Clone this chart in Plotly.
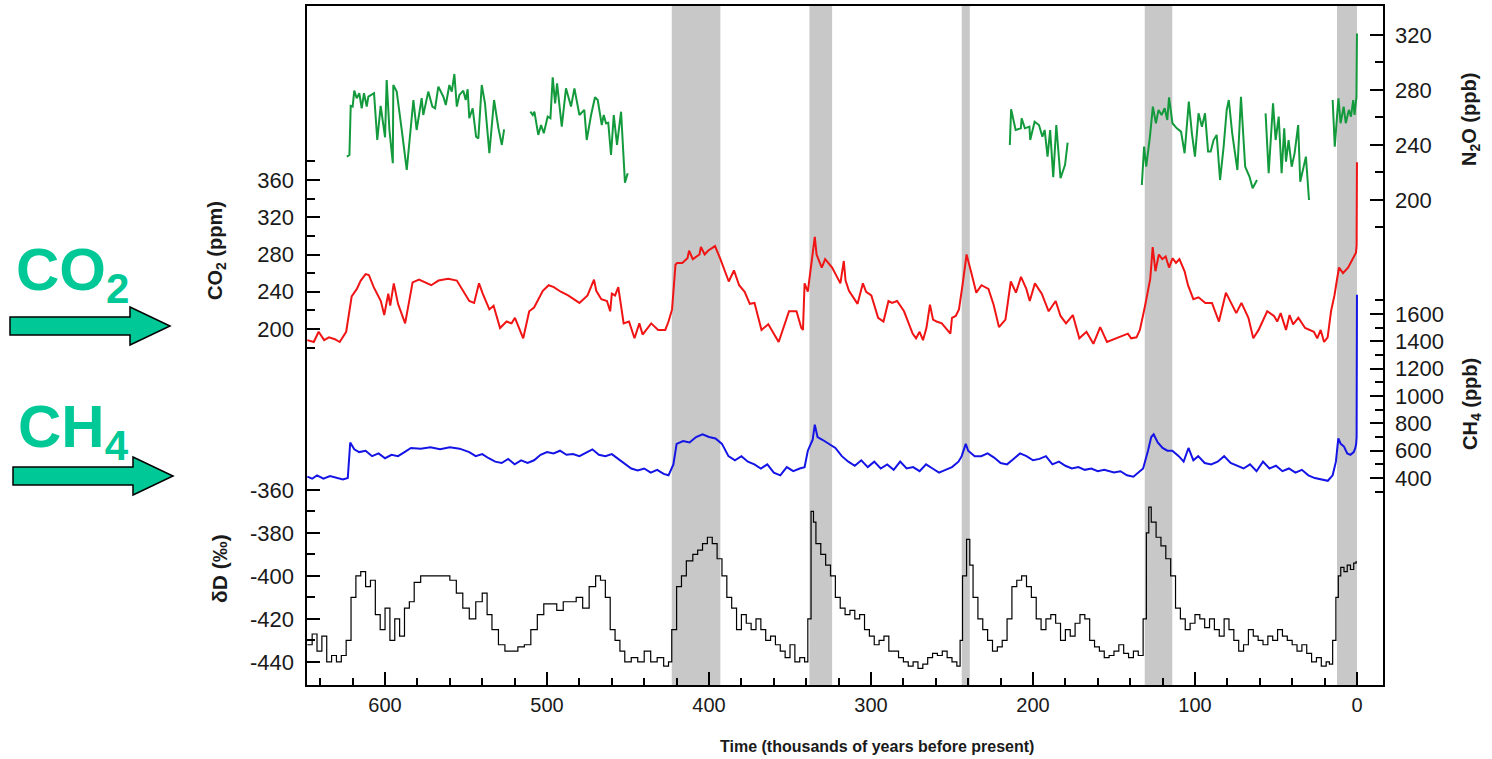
import plotly.graph_objects as go

# ---------------------------------------------------------------
# Antarctic ice-core records over the last ~650 kyr
# ages are in thousands of years before present
# ---------------------------------------------------------------

# interglacial periods (shaded)
band_start = [423, 338, 244, 131, 12.3]
band_end = [393, 324, 239, 114, 0]

# CO2 (ppm)
co2_age = [
    648, 644, 641, 637.6, 634.6, 631, 628, 626, 624, 620.6,
    617.4, 615, 612, 610, 607, 602.6, 600.5, 598, 596.8, 594.6,
    592, 587.6, 583, 579, 571.5, 567, 561, 555.7, 548, 545,
    542, 539.7, 535.6, 533, 529, 525, 521.9, 519.8, 516.6, 514.7,
    511, 508, 502.6, 499, 495.8, 491.5, 487, 480, 475, 471,
    469.6, 466.5, 463, 461, 460, 458, 456, 452.7, 449.4, 446,
    443, 441, 435.7, 431.4, 427, 425, 422.8, 420.7, 419.7, 416.5,
    413.3, 412.3, 410, 405.9, 405, 402.7, 400.6, 396.3, 393.2, 387.8,
    384.6, 381.4, 378, 374.8, 371.9, 367.6, 363.4, 357, 350.6, 346,
    343, 342, 341, 339, 334.7, 333.6, 330.4, 328.3, 324, 321,
    318.9, 316.8, 315.7, 313.6, 308.3, 305, 303, 299.8, 295.6, 292.3,
    289.2, 287, 283.9, 279.6, 274.3, 272.2, 270, 267.9, 265.8, 263.6,
    261.7, 259.5, 256.3, 251, 250, 247.7, 245.7, 243.5, 241, 238.3,
    235, 231.8, 227.5, 224.3, 221, 217, 213.7, 210.5, 207.4, 204.1,
    202, 198.8, 194.6, 190.3, 186, 183, 179.6, 175.4, 171.4, 167,
    162.7, 158.5, 154.3, 141.4, 139.4, 136.1, 134, 130.8, 127.6, 126.1,
    124.4, 122.3, 120.2, 118.1, 116, 113.8, 111.7, 109.6, 106.4, 104.3,
    101, 97.8, 93.6, 89.5, 85.2, 80.9, 77.7, 74.5, 71.3, 67,
    64, 60.7, 55.4, 51.2, 49.2, 47.1, 43.8, 41.6, 39.4, 36.2,
    32, 26.6, 24.5, 22.4, 20.3, 18.1, 16, 13.9, 11.1, 8.6,
    5.4, 2.2, 0.6, 0.2, 0.1, 0.0,
]
co2_ppm = [
    188, 186, 197, 188, 191, 189, 186, 191, 197, 235,
    243, 252, 259, 258, 245, 230, 215, 238, 225, 249,
    227, 206, 250, 253, 247, 252, 254, 252, 230, 228,
    249, 238, 221, 225, 201, 208, 206, 212, 199, 190,
    219, 223, 241, 247, 245, 240, 236, 228, 236, 253,
    241, 232, 230, 219, 238, 236, 245, 206, 208, 190,
    206, 194, 206, 199, 199, 208, 221, 269, 271, 271,
    276, 284, 275, 280, 288, 280, 284, 289, 276, 251,
    263, 247, 240, 227, 228, 199, 205, 186, 219, 219,
    201, 199, 249, 240, 299, 280, 266, 275, 266, 256,
    249, 273, 252, 241, 227, 249, 240, 236, 212, 208,
    230, 228, 230, 219, 195, 190, 197, 188, 201, 226,
    210, 208, 206, 195, 212, 214, 221, 247, 280, 262,
    239, 247, 243, 226, 202, 210, 251, 239, 256, 243,
    230, 249, 238, 219, 230, 214, 206, 215, 190, 197,
    184, 202, 186, 195, 190, 191, 199, 225, 254, 288,
    262, 280, 275, 278, 266, 276, 271, 275, 262, 247,
    232, 234, 228, 228, 208, 239, 228, 217, 228, 212,
    190, 199, 219, 214, 208, 217, 199, 215, 205, 212,
    201, 197, 190, 199, 186, 191, 219, 236, 266, 260,
    266, 276, 282, 290, 317, 379,
]

# N2O (ppb); None separates core sections without data
n2o_age = [
    623.6, 622, 621.2, 620, 619, 617.5, 615.9, 614.4, 613, 611.3,
    610.3, 608.2, 606.8, 604.8, 602.7, 600, 599, 597.3, 595.2, 594.9,
    592.8, 589.7, 586.6, 582.5, 580.5, 577.4, 576.4, 573.3, 570.8, 569.1,
    567.1, 564, 562.5, 560.3, 558.8, 557.2, 555.7, 554.1, 551.7, 550.2,
    549, 548, 545.9, 543.8, 542.4, 540.3, 538.3, 535.6, 532.7, 530,
    527.9, 526.5, None,
    510.3, 508.8, 507.8, 505.4, 503.7, 502, 499.6, 497.9, 496.5, 495,
    493.8, 490.9, 488.3, 485.2, 483.1, 480, 477, 475.5, 472.8, 470.4,
    468.7, 466.2, 465, 463.6, 462.2, 460.5, 458.8, 456.8, 454.3, 451.9,
    450.2, None,
    214.3, 213.5, 210.7, 207.5, 207, 205, 202.2, 201.7, 199, 196.3,
    194.2, 192.8, 191, 189.4, 187.5, 185.6, 183, 180.2, 178.6, None,
    132.8, 131.4, 130.1, 127.8, 126, 124.1, 122.5, 120.6, 118.7, 117.1,
    116, 113.9, 111.2, 108.6, 106.4, 103.8, 101.9, 100, 97.8, 95.7,
    93.8, 91.9, 90.3, 88.5, 86.6, 84.5, 82.3, 80.4, 79.1, 77,
    73.8, 71.6, 69, 66.3, 64.4, 61.7, None,
    56.4, 54.5, 51.8, 50.2, 48.3, 46.5, 44.9, 43.8, 42.2, 40.3,
    38.5, 36.3, 35, 33.1, 31.5, 29.6, None,
    15, 13.7, 12.3, 11.4, 10.1, 8.2, 6.9, 5, 3.7, 2.3,
    1.5, 0.7, 0.3, 0.0,
]
n2o_ppb = [
    231.5, 232.7, 268.4, 267.9, 279.5, 274, 277.6, 266.7, 277.6, 267.9,
    275.1, 276.9, 277.6, 243.6, 268.4, 245.6, 287.3, 250.9, 226.7, 283.6,
    278.8, 250.9, 221.8, 272.7, 250.9, 274, 261.8, 278.8, 267.9, 266.7,
    282.4, 275.1, 269.1, 283.6, 278.8, 291.6, 267.9, 276.4, 279.5, 272.7,
    280.5, 259.4, 266.7, 246, 244.8, 283.6, 270.3, 234, 272.7, 252.1,
    240, 251.4, None,
    264.2, 261.8, 264.2, 247.3, 254.5, 248.5, 260.6, 259.4, 289.2, 270.3,
    284.8, 253.3, 281.2, 267.9, 281.2, 261.8, 265.5, 243.6, 261.8, 274.7,
    272.7, 254.5, 261.8, 255.8, 256.2, 232.7, 261.8, 240, 264.2, 212.6,
    219.4, None,
    240, 266, 250.9, 252.1, 259.4, 252.1, 253.3, 243.6, 256.9, 254.5,
    246, 250.9, 231.5, 250.9, 216.5, 254.5, 215.8, 225.5, 241.7, None,
    210.9, 238.8, 224.2, 246, 267.9, 255.8, 265.5, 261.8, 266.7, 258.2,
    274.7, 255.8, 252.1, 249.7, 234, 271.5, 248.5, 231.5, 263, 253.3,
    263, 235.2, 235.2, 243.6, 247.3, 214.5, 238.8, 265.5, 272.7, 248.5,
    221.8, 275.1, 224.2, 216.9, 208.5, 214.5, None,
    263, 219.4, 270.3, 243.6, 260.6, 219.4, 252.1, 227.9, 243.6, 224.2,
    233.9, 254.5, 213.3, 224.2, 231.5, 200, None,
    272.7, 238.8, 260.6, 274, 255.8, 267.9, 255.8, 265.5, 260.6, 272.7,
    261.8, 272.7, 275, 321,
]

# CH4 (ppb)
ch4_age = [
    648, 645, 642, 638, 634, 630, 626, 623, 621.5, 619,
    616, 612, 608, 604, 600, 596, 592, 588, 584, 578,
    572, 566, 560, 554, 548, 544, 540, 536, 532, 528,
    524, 520, 516, 512, 508, 504, 500, 496, 492, 488,
    484, 480, 476, 472, 468, 464, 460, 456, 452, 448,
    444, 440, 436, 432, 428, 425, 422, 420, 416, 412,
    408, 404, 400, 396, 392, 388, 384, 380, 376, 372,
    368, 364, 360, 356, 352, 348, 344, 341, 339, 336,
    334.7, 333, 330, 326, 322, 318, 314, 310, 306, 302,
    298, 294, 290, 286, 282, 278, 274, 270, 266, 262,
    258, 254, 250, 246, 244, 241.5, 240, 236, 232, 228,
    224, 220, 216, 212, 208, 204, 200, 196, 192, 188,
    184, 180, 176, 172, 168, 164, 160, 156, 150, 146,
    142, 138, 135, 132, 129, 127, 125.5, 123, 120, 117,
    114, 110, 107, 104, 101, 98, 94, 90, 86, 82,
    78, 74, 70, 66, 62, 58, 54, 50, 46, 42,
    38, 34, 30, 26, 22, 18, 15, 13, 11.5, 10,
    8, 6, 4, 2, 1, 0.5, 0.2, 0.1, 0,
]
ch4_ppb = [
    410, 395, 420, 395, 415, 400, 390, 400, 660, 610,
    590, 600, 560, 580, 545, 570, 560, 590, 620, 615,
    625, 610, 625, 615, 590, 560, 575, 545, 520, 510,
    540, 500, 530, 510, 530, 570, 590, 580, 600, 570,
    575, 560, 585, 610, 570, 560, 575, 540, 500, 470,
    455, 470, 440, 460, 430, 420, 500, 650, 670, 660,
    700, 720, 700, 690, 650, 560, 530, 560, 520, 500,
    470, 500, 440, 420, 480, 450, 470, 480, 600, 680,
    790, 700, 680, 650, 620, 560, 520, 490, 530, 480,
    520, 470, 500, 460, 520, 470, 480, 450, 500, 470,
    440, 460, 480, 520, 560, 650, 600, 560, 560, 580,
    550, 510, 500, 540, 580, 560, 530, 540, 560, 500,
    520, 490, 470, 480, 460, 470, 450, 460, 440, 450,
    420, 410, 440, 470, 600, 700, 720, 660, 620, 600,
    600, 560, 520, 620, 530, 560, 510, 500, 520, 560,
    510, 490, 470, 500, 450, 520, 470, 490, 450, 470,
    440, 460, 420, 400, 390, 380, 420, 520, 690, 650,
    630, 580, 570, 590, 620, 650, 700, 900, 1740,
]

# deuterium (permil)
dd_age = [
    648, 645, 642, 639, 636, 633, 630, 627, 624, 621,
    618, 615, 612, 609, 606, 603, 600, 597, 594, 591,
    588, 585, 582, 578, 572, 566, 560, 556, 552, 548,
    544, 540, 537, 534, 530, 526, 522, 518, 514, 510,
    506, 502, 498, 494, 490, 486, 482, 478, 474, 470,
    467, 464, 461, 458, 455, 452, 448, 444, 440, 436,
    432, 428, 425, 423, 420, 417, 414, 410, 407, 404,
    401, 398, 395, 392, 389, 386, 383, 380, 377, 374,
    371, 368, 365, 362, 359, 356, 353, 350, 347, 344,
    341, 339, 337, 335.5, 334, 331, 328, 325, 322, 319,
    316, 313, 310, 307, 304, 301, 298, 295, 292, 289,
    286, 283, 280, 277, 274, 271, 268, 265, 262, 259,
    256, 253, 250, 247, 245, 243.5, 241, 239, 237, 234,
    231, 228, 225, 222, 219, 216, 213, 210, 207, 204,
    201, 198, 195, 192, 189, 186, 183, 180, 177, 174,
    171, 168, 165, 162, 159, 156, 153, 150, 147, 144,
    141, 138, 135, 132, 130, 128.5, 127, 124, 121, 118,
    115, 112, 109, 106, 103, 100, 97, 94, 91, 88,
    85, 82, 79, 76, 73, 70, 67, 64, 61, 58,
    55, 52, 49, 46, 43, 40, 37, 34, 31, 28,
    25, 22, 19, 17, 15, 13, 11.5, 10, 8, 6,
    4, 2, 0.5,
]
dd_permil = [
    -432, -427, -435, -428, -440, -437, -440, -437, -430, -410,
    -400, -398, -405, -402, -418, -425, -415, -430, -420, -428,
    -415, -412, -403, -400, -400, -400, -402, -408, -415, -420,
    -412, -408, -418, -425, -432, -435, -435, -433, -432, -425,
    -418, -413, -413, -416, -412, -412, -410, -415, -405, -400,
    -402, -410, -425, -430, -435, -440, -438, -440, -435, -440,
    -438, -442, -440, -425, -405, -400, -393, -390, -388, -385,
    -382, -385, -392, -400, -410, -415, -425, -418, -422, -425,
    -420, -425, -430, -428, -432, -435, -438, -432, -440, -438,
    -440, -420, -370, -375, -385, -390, -395, -400, -410, -415,
    -418, -416, -420, -418, -425, -428, -432, -430, -428, -435,
    -435, -438, -440, -442, -440, -443, -441, -438, -436, -437,
    -435, -438, -440, -442, -430, -400, -383, -395, -410, -420,
    -425, -430, -435, -433, -430, -420, -405, -402, -400, -405,
    -410, -420, -425, -420, -418, -422, -430, -425, -428, -422,
    -418, -420, -430, -433, -435, -438, -437, -435, -432, -436,
    -438, -435, -437, -420, -380, -368, -375, -382, -386, -392,
    -400, -415, -420, -425, -422, -418, -420, -424, -420, -425,
    -428, -420, -425, -430, -435, -432, -425, -428, -430, -432,
    -428, -430, -425, -428, -430, -432, -435, -432, -436, -440,
    -438, -442, -440, -441, -430, -410, -400, -396, -398, -395,
    -397, -394, -393,
]

# axis tick values
time_major = [600, 500, 400, 300, 200, 100, 0]
time_minor = [v for v in range(640, -1, -20) if v % 100 != 0]
co2_major = [200, 240, 280, 320, 360]
co2_minor = [180, 220, 260, 300, 340, 380]
dd_major = [-440, -420, -400, -380, -360]
dd_minor = [-430, -410, -390, -370]
n2o_major = [200, 240, 280, 320]
n2o_minor = [180, 220, 260, 300]
ch4_major = [400, 600, 800, 1000, 1200, 1400, 1600]
ch4_minor = [300, 500, 700, 900, 1100, 1300, 1500, 1700]

# ---------------------------------------------------------------
W, H = 1492, 759
ML, MR, MT, MB = 306, 108, 5, 73
PW, PH = W - ML - MR, H - MT - MB


def px(x):
    return (x - ML) / PW


def py(y):
    return (H - MB - y) / PH


FONT = "Liberation Sans, Arial, sans-serif"
MINT = "#00c896"

fig = go.Figure()

fig.add_trace(go.Scatter(x=dd_age, y=dd_permil, yaxis="y2", mode="lines",
                         line=dict(color="black", width=1.2, shape="hv"),
                         showlegend=False))
fig.add_trace(go.Scatter(x=ch4_age, y=ch4_ppb, yaxis="y4", mode="lines",
                         line=dict(color="#1414e6", width=2),
                         showlegend=False))
fig.add_trace(go.Scatter(x=co2_age, y=co2_ppm, yaxis="y", mode="lines",
                         line=dict(color="#f01414", width=2),
                         showlegend=False))
fig.add_trace(go.Scatter(x=n2o_age, y=n2o_ppb, yaxis="y3", mode="lines",
                         line=dict(color="#139a3c", width=2),
                         connectgaps=False, showlegend=False))

tickfont = dict(family=FONT, size=22, color="#1a1a1a")


def yax(rng, major, minor, side, standoff, overlay=True):
    d = dict(range=rng, autorange=False, side=side, showgrid=False,
             zeroline=False, showline=False, ticks="inside", ticklen=14,
             tickwidth=1.6, tickcolor="black", tickmode="array",
             tickvals=major, ticktext=[str(v) for v in major],
             tickfont=tickfont, ticklabelstandoff=standoff, fixedrange=True,
             minor=dict(tickmode="array", tickvals=minor, ticks="inside",
                        ticklen=9, tickwidth=1.6, tickcolor="black",
                        showgrid=False))
    if overlay:
        d["overlaying"] = "y"
        d["anchor"] = "x"
    return d


fig.update_layout(
    width=W, height=H,
    margin=dict(l=ML, r=MR, t=MT, b=MB, autoexpand=False),
    paper_bgcolor="white", plot_bgcolor="white",
    showlegend=False,
    xaxis=dict(range=[648.8, -16.7], autorange=False, showgrid=False,
               zeroline=False, showline=False, ticks="inside", ticklen=14,
               tickwidth=1.6, tickcolor="black", tickmode="array",
               tickvals=time_major, ticktext=[str(v) for v in time_major],
               tickfont=dict(family=FONT, size=20, color="#1a1a1a"),
               ticklabelstandoff=5, fixedrange=True,
               minor=dict(tickmode="array", tickvals=time_minor,
                          ticks="inside", ticklen=8, tickwidth=1.6,
                          tickcolor="black", showgrid=False)),
    yaxis=yax([-183.5, 548], co2_major, co2_minor, "left", 11, overlay=False),
    yaxis2=yax([-451.2, -134.4], dd_major, dd_minor, "left", 11),
    yaxis3=yax([-153.5, 341.8], n2o_major, n2o_minor, "right", 10),
    yaxis4=yax([-1121, 3860], ch4_major, ch4_minor, "right", 10),
)

# interglacial shading
for a, b in zip(band_start, band_end):
    fig.add_shape(type="rect", xref="x", yref="paper", x0=a, x1=b,
                  y0=0, y1=1, fillcolor="#c8c8c8", line=dict(width=0),
                  layer="below")

# frame
fig.add_shape(type="rect", xref="paper", yref="paper", x0=0, x1=1, y0=0,
              y1=1, line=dict(color="black", width=2), layer="above")


# block arrows pointing at the CO2 and CH4 records
def arrow(x0, xh, xt, yc, half_shaft, half_head):
    pts = [(x0, yc - half_shaft), (xh, yc - half_shaft), (xh, yc - half_head),
           (xt, yc), (xh, yc + half_head), (xh, yc + half_shaft),
           (x0, yc + half_shaft)]
    path = "M " + " L ".join(f"{px(a):.5f},{py(b):.5f}" for a, b in pts) + " Z"
    fig.add_shape(type="path", xref="paper", yref="paper", path=path,
                  fillcolor=MINT, line=dict(color="black", width=1.5))


arrow(10, 130, 170, 326, 9, 19)
arrow(13, 133, 173, 476, 9, 19)

ann = []
ann.append(dict(text="<b>CO<sub>2</sub></b>", x=px(14), y=py(274),
                xanchor="left", yanchor="middle",
                font=dict(family=FONT, size=60, color=MINT)))
ann.append(dict(text="<b>CH<sub>4</sub></b>", x=px(16), y=py(431),
                xanchor="left", yanchor="middle",
                font=dict(family=FONT, size=60, color=MINT)))

title_font = dict(family=FONT, size=20, color="#1a1a1a")
ann.append(dict(text="<b>CO<sub>2</sub> (ppm)</b>", x=px(216), y=py(251),
                textangle=-90, xanchor="center", yanchor="middle",
                font=title_font))
ann.append(dict(text="<b>\u03b4D (\u2030)</b>", x=px(219), y=py(569),
                textangle=-90, xanchor="center", yanchor="middle",
                font=dict(family=FONT, size=21, color="#1a1a1a")))
ann.append(dict(text="<b>N<sub>2</sub>O (ppb)</b>", x=px(1471), y=py(120),
                textangle=-90, xanchor="center", yanchor="middle",
                font=title_font))
ann.append(dict(text="<b>CH<sub>4</sub> (ppb)</b>", x=px(1471), y=py(404),
                textangle=-90, xanchor="center", yanchor="middle",
                font=title_font))
ann.append(dict(text="<b>Time (thousands of years before present)</b>",
                x=px(877), y=py(746), xanchor="center", yanchor="middle",
                font=dict(family=FONT, size=16, color="#1a1a1a")))

for a in ann:
    a.update(xref="paper", yref="paper", showarrow=False)
fig.update_layout(annotations=ann)

fig.write_html("out.html")
